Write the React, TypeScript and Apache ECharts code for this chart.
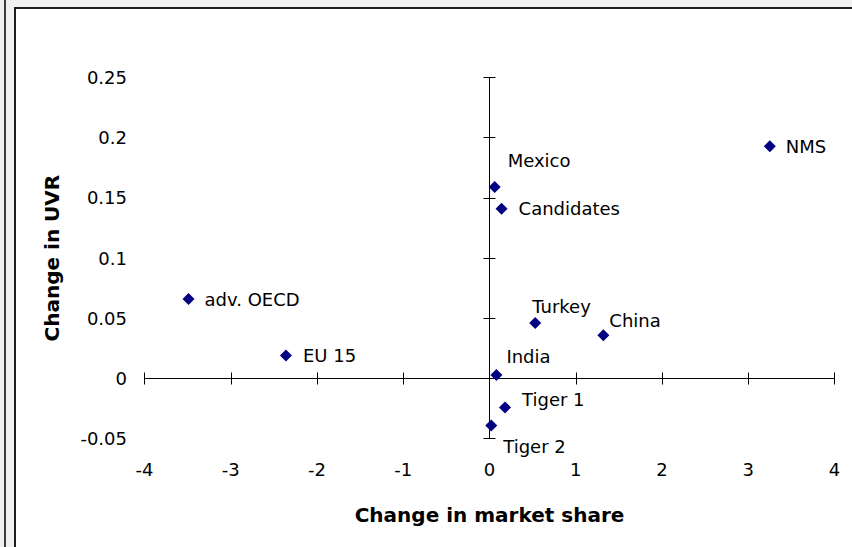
import React, { useEffect, useRef } from "react";
import * as echarts from "echarts";

// ---- data ----
const countries = ["NMS", "Mexico", "Candidates", "adv. OECD", "EU 15", "Turkey", "China", "India", "Tiger 1", "Tiger 2"];
const marketShare = [3.25, 0.06, 0.14, -3.49, -2.36, 0.53, 1.32, 0.08, 0.18, 0.02];
const uvrChange = [0.193, 0.159, 0.141, 0.066, 0.019, 0.046, 0.036, 0.003, -0.024, -0.039];

const xMin = -4;
const xMax = 4;
const xStep = 1;
const yMin = -0.05;
const yMax = 0.25;
const yStep = 0.05;

const xTitle = "Change in market share";
const yTitle = "Change in UVR";

// ---- layout (label offsets from marker centre: [dx to text left, dy to text middle]) ----
const labelOffsets: Record<string, [number, number]> = {
  NMS: [16, 0],
  Mexico: [13, -27],
  Candidates: [17, 0],
  "adv. OECD": [16, 0],
  "EU 15": [17, 0],
  Turkey: [-3, -17],
  China: [6, -15],
  India: [10, -18],
  "Tiger 1": [17, -8],
  "Tiger 2": [12, 21],
};

const FONT = "DejaVu Sans";
const SYMBOL = 12;

export default function App() {
  const ref = useRef<HTMLDivElement>(null);

  useEffect(() => {
    if (!ref.current) return;
    const chart = echarts.init(ref.current, undefined, { renderer: "svg" });

    const data = countries.map((name, i) => {
      const [dx, dy] = labelOffsets[name] || [16, 0];
      return {
        name,
        value: [marketShare[i], uvrChange[i]],
        label: { offset: [dx - SYMBOL / 2, dy] },
      };
    });

    const axisLineStyle = { color: "#000", width: 1 };

    chart.setOption({
      animation: false,
      backgroundColor: "#f0f0f0",
      textStyle: { fontFamily: FONT },
      graphic: {
        elements: [
          {
            type: "rect",
            z: -10,
            silent: true,
            shape: { x: 15, y: 8, width: 860, height: 560 },
            style: { fill: "#ffffff", stroke: "#1e1e1e", lineWidth: 2 },
          },
          {
            type: "line",
            z: -10,
            silent: true,
            shape: { x1: 5, y1: 0, x2: 5, y2: 547 },
            style: { stroke: "#3a3a3a", lineWidth: 2 },
          },
        ],
      },
      grid: {
        left: 144.5,
        right: 17.5,
        top: 77.5,
        bottom: 108.3,
        containLabel: false,
        outerBoundsMode: "none",
      },
      xAxis: [
        {
          type: "value",
          position: "bottom",
          min: xMin,
          max: xMax,
          interval: xStep,
          axisLine: { show: true, onZero: true, onZeroAxisIndex: 0, lineStyle: axisLineStyle },
          axisTick: { show: true, length: 6, lineStyle: axisLineStyle },
          axisLabel: { show: true, margin: 22, color: "#000", fontSize: 18, fontFamily: FONT },
          splitLine: { show: false },
          name: xTitle,
          nameLocation: "middle",
          nameGap: 66,
          nameTextStyle: { color: "#000", fontSize: 20, fontWeight: "bold", fontFamily: FONT },
        },
        {
          type: "value",
          position: "top",
          min: xMin,
          max: xMax,
          interval: xStep,
          axisLine: { show: false, onZero: true, onZeroAxisIndex: 0 },
          axisTick: { show: true, length: 6, lineStyle: axisLineStyle },
          axisLabel: { show: false },
          splitLine: { show: false },
        },
      ],
      yAxis: [
        {
          type: "value",
          position: "left",
          min: yMin,
          max: yMax,
          interval: yStep,
          axisLine: { show: true, onZero: true, onZeroAxisIndex: 0, lineStyle: axisLineStyle },
          axisTick: { show: true, length: 6, lineStyle: axisLineStyle },
          axisLabel: { show: true, margin: 17.5, color: "#000", fontSize: 18, fontFamily: FONT },
          splitLine: { show: false },
          name: yTitle,
          nameLocation: "middle",
          nameGap: 83,
          nameRotate: 90,
          nameTextStyle: { color: "#000", fontSize: 20, fontWeight: "bold", fontFamily: FONT },
        },
        {
          type: "value",
          position: "right",
          min: yMin,
          max: yMax,
          interval: yStep,
          axisLine: { show: false, onZero: true, onZeroAxisIndex: 0 },
          axisTick: { show: true, length: 6, lineStyle: axisLineStyle },
          axisLabel: { show: false },
          splitLine: { show: false },
        },
      ],
      series: [
        {
          type: "scatter",
          xAxisIndex: 0,
          yAxisIndex: 0,
          symbol: "diamond",
          symbolSize: SYMBOL,
          itemStyle: { color: "#000080", opacity: 1 },
          clip: false,
          label: {
            show: true,
            position: "right",
            distance: 0,
            align: "left",
            verticalAlign: "middle",
            formatter: "{b}",
            color: "#000",
            fontSize: 18,
            fontFamily: FONT,
          },
          data,
        },
      ],
    });

    return () => chart.dispose();
  }, []);

  return (
    <div
      ref={ref}
      style={{ position: "fixed", left: 0, top: 0, width: 852, height: 547 }}
    />
  );
}
